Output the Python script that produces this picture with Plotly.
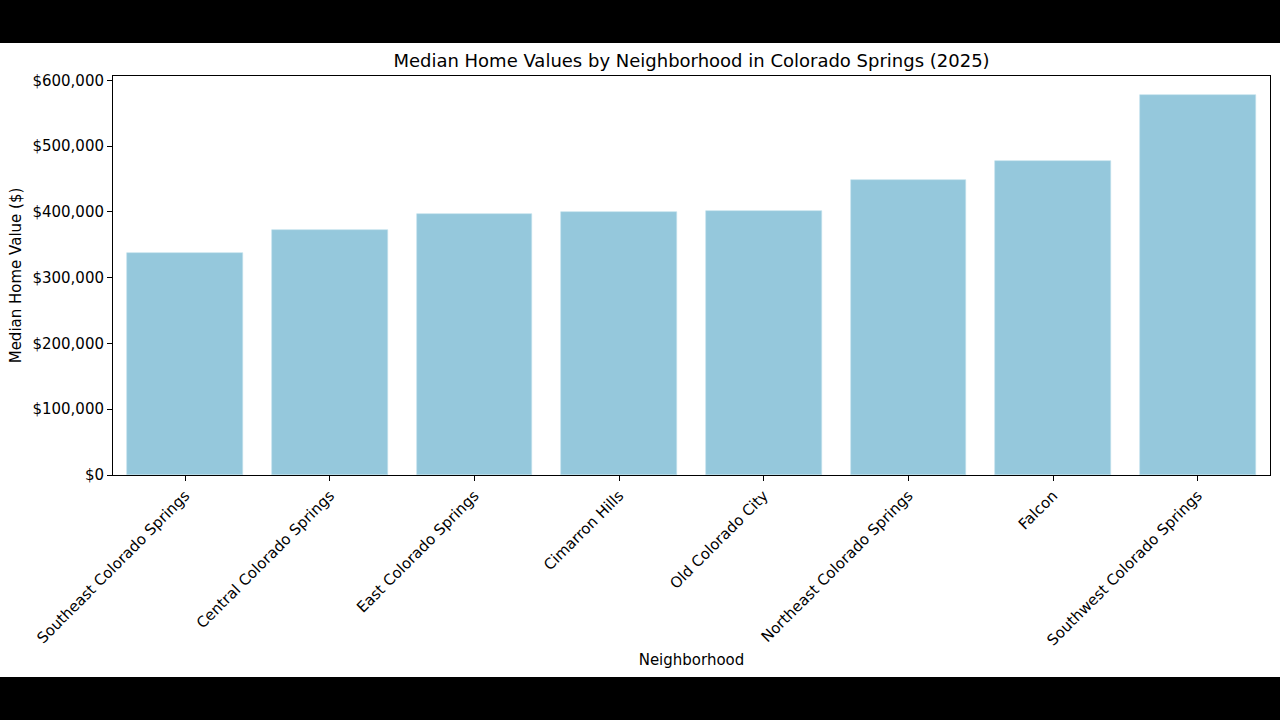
import plotly.graph_objects as go

neighborhoods = [
    "Southeast Colorado Springs",
    "Central Colorado Springs",
    "East Colorado Springs",
    "Cimarron Hills",
    "Old Colorado City",
    "Northeast Colorado Springs",
    "Falcon",
    "Southwest Colorado Springs",
]
median_values = [338000, 373000, 397000, 400000, 402000, 448000, 478000, 578000]
y_ticks = [0, 100000, 200000, 300000, 400000, 500000, 600000]

bar_color = "#95c8dc"
font_family = "DejaVu Sans"

fig = go.Figure()
fig.add_trace(go.Bar(
    x=list(range(len(neighborhoods))),
    y=median_values,
    width=0.8,
    marker=dict(color=bar_color, line=dict(color="#bfe0ec", width=0.6)),
))

# letterbox look: black page with a white band where the figure sits
fig.add_shape(type="rect", xref="paper", yref="paper",
              x0=-0.2, x1=1.2, y0=-0.5063, y1=1.0827,
              fillcolor="white", line_width=0, layer="below")

fig.update_layout(
    width=1280, height=720,
    margin=dict(l=113, r=10, t=76, b=245),
    paper_bgcolor="black",
    plot_bgcolor="white",
    showlegend=False,
    font=dict(family=font_family, size=15, color="black"),
    title=dict(
        text="Median Home Values by Neighborhood in Colorado Springs (2025)",
        x=(113 + 1270) / 2 / 1280, xanchor="center",
        y=1 - 61 / 720, yanchor="middle",
        font=dict(size=18, family=font_family, color="black"),
    ),
    bargap=0,
)

fig.update_xaxes(
    range=[-0.5, len(neighborhoods) - 0.5],
    tickmode="array",
    tickvals=list(range(len(neighborhoods))),
    ticktext=neighborhoods,
    tickangle=-45,
    ticks="outside", ticklen=5, tickwidth=1, tickcolor="black",
    showline=True, linecolor="black", linewidth=1, mirror=True,
    showgrid=False, zeroline=False,
    title=dict(text="Neighborhood", standoff=6, font=dict(size=15)),
    automargin=False,
)
fig.update_yaxes(
    range=[0, 606750],
    tickmode="array",
    tickvals=y_ticks,
    tickformat="$,.0f",
    ticks="outside", ticklen=5, tickwidth=1, tickcolor="black",
    showline=True, linecolor="black", linewidth=1, mirror=True,
    showgrid=False, zeroline=False,
    title=dict(text="Median Home Value ($)", standoff=7, font=dict(size=15)),
    automargin=False,
)

fig.write_html(
    "out.html",
    config={"displayModeBar": False},
    post_script="document.body.style.margin='0';document.body.style.background='black';",
)
